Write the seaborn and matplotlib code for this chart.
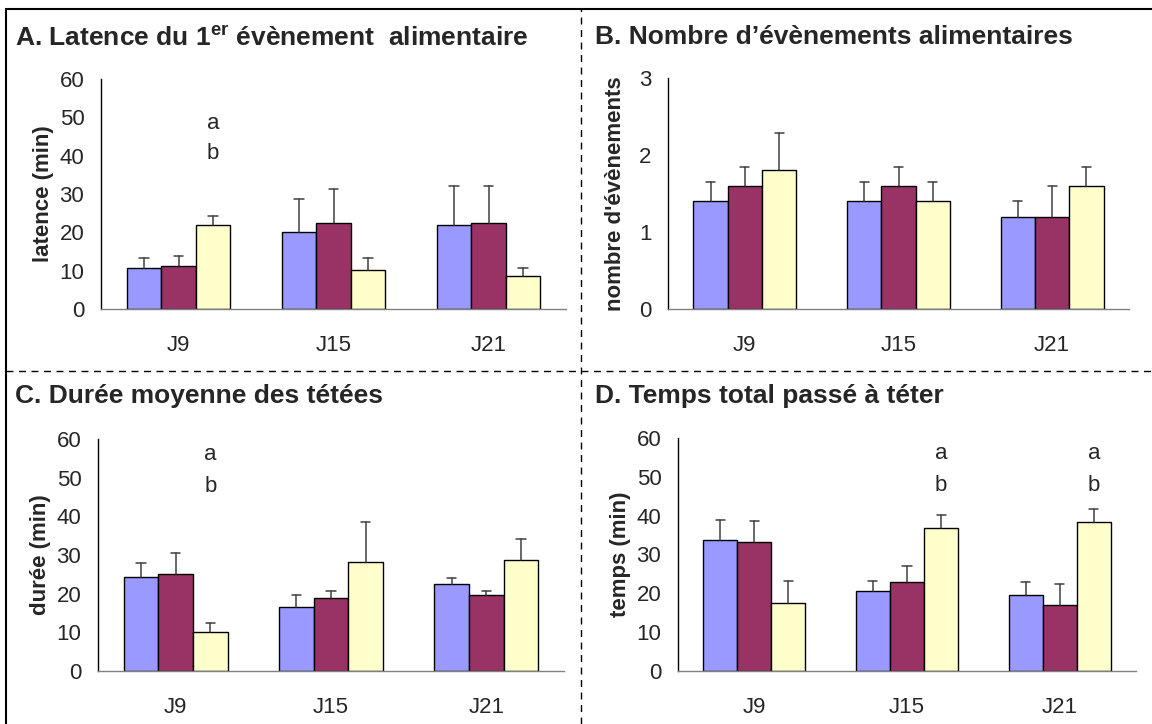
import numpy as np
import pandas as pd
import matplotlib.pyplot as plt
import seaborn as sns
from matplotlib.lines import Line2D

# Data
days = ["J9", "J15", "J21"]
groups = ["g1", "g2", "g3"]
colors = ["#9999FF", "#993366", "#FFFFCC"]

# A. latence du 1er evenement alimentaire (min)
lat_mean = [[10.7, 20.0, 22.0], [11.2, 22.5, 22.5], [22.0, 10.3, 8.5]]
lat_err = [[2.5, 8.8, 10.0], [2.5, 8.7, 9.7], [2.3, 3.1, 2.1]]
# B. nombre d'evenements alimentaires
nb_mean = [[1.4, 1.4, 1.2], [1.6, 1.6, 1.2], [1.8, 1.4, 1.6]]
nb_err = [[0.25, 0.25, 0.2], [0.25, 0.25, 0.4], [0.48, 0.25, 0.25]]
# C. duree moyenne des tetees (min)
dur_mean = [[24.3, 16.5, 22.5], [25.2, 18.8, 19.7], [10.0, 28.3, 28.7]]
dur_err = [[3.7, 3.1, 1.5], [5.3, 2.0, 0.9], [2.4, 10.2, 5.5]]
# D. temps total passe a teter (min)
tps_mean = [[33.7, 20.7, 19.5], [33.2, 22.9, 17.0], [17.6, 36.8, 38.4]]
tps_err = [[5.2, 2.4, 3.3], [5.4, 4.2, 5.4], [5.5, 3.4, 3.3]]

# significance letters: (day index, letter heights)
letters_A = [(0, [48.5, 40.5])]
letters_C = [(0, [56.0, 47.8])]
letters_D = [(1, [56.0, 47.7]), (2, [56.0, 47.7])]

sns.set_style("white")
plt.rcParams["font.family"] = ["Liberation Sans", "DejaVu Sans"]
plt.rcParams["mathtext.fontset"] = "custom"
plt.rcParams["mathtext.bf"] = "Liberation Sans:bold"
plt.rcParams["mathtext.rm"] = "Liberation Sans"

W, H = 1152, 724
fig = plt.figure(figsize=(W / 100, H / 100), dpi=100)

TICK_FS = 16


def px_axes(x0, x1, ytop, ybot):
    return fig.add_axes([x0 / W, 1 - ybot / H, (x1 - x0) / W, (ybot - ytop) / H])


def panel(ax, means, errs, ymax, ystep, ylabel, letters, labelpad):
    df = pd.DataFrame({
        "day": np.tile(days, len(groups)),
        "group": np.repeat(groups, len(days)),
        "value": np.ravel(means),
    })
    sns.barplot(data=df, x="day", y="value", hue="group", order=days,
                hue_order=groups, palette=colors, width=0.67, errorbar=None,
                edgecolor="black", linewidth=1.0, saturation=1, legend=False, ax=ax)
    # upper error bars only
    for cont, err in zip(ax.containers, errs):
        for bar, e in zip(cont, err):
            xc = bar.get_x() + bar.get_width() / 2
            top = bar.get_height()
            ax.plot([xc, xc], [top, top + e], color="#404040", lw=1.1, zorder=1)
            ax.plot([xc - 0.03, xc + 0.03], [top + e] * 2, color="#404040", lw=1.1, zorder=1)
    for di, ys in letters:
        bar = ax.containers[2][di]
        xc = bar.get_x() + bar.get_width() / 2
        for txt, y in zip(["a", "b"], ys):
            ax.text(xc, y, txt, ha="center", va="center", fontsize=TICK_FS)
    ax.set_xlim(-0.5, 2.5)
    ax.set_ylim(0, ymax)
    ax.set_yticks(np.arange(0, ymax + ystep / 2, ystep))
    ax.set_xticks(range(3))
    ax.set_xticklabels(days)
    ax.set_xticks([-0.5, 0.5, 1.5, 2.5], minor=True)
    ax.tick_params(axis="x", which="major", length=0, pad=19, labelsize=TICK_FS)
    ax.tick_params(axis="x", which="minor", length=7, color="#808080", direction="out", width=1)
    ax.tick_params(axis="y", length=5, color="black", direction="out", width=1, labelsize=TICK_FS, pad=7)
    ax.set_xlabel("")
    ax.set_ylabel(ylabel, fontsize=16, fontweight="bold", labelpad=labelpad)
    for s in ["top", "right"]:
        ax.spines[s].set_visible(False)
    ax.spines["left"].set_color("black")
    ax.spines["bottom"].set_color("#808080")
    ax.spines["left"].set_linewidth(1)
    ax.spines["bottom"].set_linewidth(1)
    ax.patch.set_alpha(0)


axA = px_axes(101, 566, 79, 309)
panel(axA, lat_mean, lat_err, 60, 10, "latence (min)", letters_A, 4)
axB = px_axes(668, 1129, 78, 309)
panel(axB, nb_mean, nb_err, 3, 1, "nombre d'évènements", [], 9)
axC = px_axes(98, 564, 439, 671)
panel(axC, dur_mean, dur_err, 60, 10, "durée (min)", letters_C, 4)
axD = px_axes(678, 1136, 438, 671)
panel(axD, tps_mean, tps_err, 60, 10, "temps (min)", letters_D, 4)

title_kw = dict(fontsize=19, fontweight="bold", va="center", ha="left")
fig.text(15 / W, 1 - 38 / H, r"A. Latence du 1$^{\mathbf{er}}$ évènement  alimentaire", **title_kw)
fig.text(595 / W, 1 - 37 / H, "B. Nombre d’évènements alimentaires", **title_kw)
fig.text(15 / W, 1 - 396 / H, "C. Durée moyenne des tétées", **title_kw)
fig.text(595 / W, 1 - 396 / H, "D. Temps total passé à téter", **title_kw)

# frame and dashed separators
fig.add_artist(Line2D([6 / W, 1], [1 - 9 / H] * 2, color="black", lw=1.5))
fig.add_artist(Line2D([6 / W] * 2, [0, 1 - 9 / H], color="black", lw=1.5))
fig.add_artist(Line2D([581 / W] * 2, [0, 1 - 9 / H], color="black", lw=1, ls=(0, (5, 4))))
fig.add_artist(Line2D([6 / W, 1], [1 - 371 / H] * 2, color="black", lw=1, ls=(0, (5, 4))))

fig.savefig("out.png", dpi=100)
